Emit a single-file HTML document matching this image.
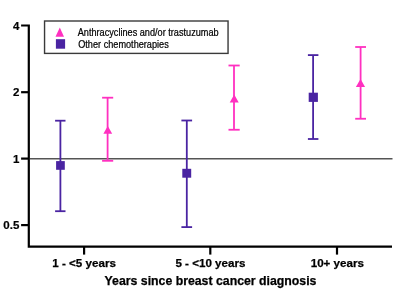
<!DOCTYPE html>
<html><head><meta charset="utf-8">
<style>
html,body{margin:0;padding:0;background:#fff;}
svg{display:block;will-change:transform;}
text{font-family:"Liberation Sans",sans-serif;}
</style></head>
<body>
<svg width="400" height="300" viewBox="0 0 400 300">
<rect width="400" height="300" fill="#fff"/>
<!-- reference line -->
<line x1="30" y1="158.7" x2="392.5" y2="158.7" stroke="#555" stroke-width="1.6"/>
<!-- axes -->
<g stroke="#000" stroke-width="2.2" fill="none">
<polyline points="21.1,25.5 28.8,25.5 28.8,246.6 392,246.6" stroke-linejoin="miter"/>
<line x1="21.1" y1="92.2" x2="28.8" y2="92.2"/>
<line x1="21.1" y1="158.6" x2="28.8" y2="158.6"/>
<line x1="21.1" y1="225.1" x2="28.8" y2="225.1"/>
<line x1="84.1" y1="246.6" x2="84.1" y2="254.6"/>
<line x1="210.3" y1="246.6" x2="210.3" y2="254.6"/>
<line x1="337" y1="246.6" x2="337" y2="254.6"/>
</g>
<!-- y labels -->
<g font-weight="bold" font-size="11.5" text-anchor="end" fill="#000" stroke="#000" stroke-width="0.2">
<text x="19.5" y="29.6">4</text>
<text x="19.5" y="96.1">2</text>
<text x="19.5" y="162.6">1</text>
<text x="19.3" y="229.2">0.5</text>
</g>
<!-- x labels -->
<g font-weight="bold" font-size="11.6" text-anchor="middle" fill="#000" stroke="#000" stroke-width="0.25">
<text x="84.1" y="267.4">1 - &lt;5 years</text>
<text x="210.4" y="267.4">5 - &lt;10 years</text>
<text x="337.3" y="267.4">10+ years</text>
</g>
<text x="210.5" y="284.7" font-weight="bold" font-size="12.3" text-anchor="middle" fill="#000" stroke="#000" stroke-width="0.25">Years since breast cancer diagnosis</text>
<!-- purple bars -->
<g stroke="#4A24A2" stroke-width="1.8" fill="none">
<line x1="60.4" y1="120.7" x2="60.4" y2="211.2"/>
<line x1="55.1" y1="120.7" x2="65.5" y2="120.7"/>
<line x1="55.1" y1="211.2" x2="65.5" y2="211.2"/>
<line x1="186.8" y1="120.5" x2="186.8" y2="227.1"/>
<line x1="181.4" y1="120.5" x2="192.1" y2="120.5"/>
<line x1="181.4" y1="227.1" x2="192.1" y2="227.1"/>
<line x1="313.1" y1="55.1" x2="313.1" y2="139"/>
<line x1="307.9" y1="55.1" x2="318.4" y2="55.1"/>
<line x1="307.9" y1="139" x2="318.4" y2="139"/>
</g>
<g fill="#4A24A2">
<rect x="56.1" y="161.1" width="8.7" height="8.7"/>
<rect x="182.3" y="168.8" width="8.9" height="8.9"/>
<rect x="308.7" y="92.7" width="9.2" height="9.2"/>
</g>
<!-- pink bars -->
<g stroke="#FF30C0" stroke-width="1.8" fill="none">
<line x1="107.6" y1="97.7" x2="107.6" y2="160.8"/>
<line x1="102.1" y1="97.7" x2="113.2" y2="97.7"/>
<line x1="102.1" y1="160.8" x2="113.2" y2="160.8"/>
<line x1="234" y1="65.5" x2="234" y2="129.75"/>
<line x1="228.5" y1="65.5" x2="239.7" y2="65.5"/>
<line x1="228.5" y1="129.75" x2="239.7" y2="129.75"/>
<line x1="360.6" y1="47" x2="360.6" y2="118.75"/>
<line x1="355.2" y1="47" x2="366" y2="47"/>
<line x1="355.2" y1="118.75" x2="366" y2="118.75"/>
</g>
<g fill="#FF30C0">
<polygon points="107.8,126.0 112.2,133.8 103.4,133.8"/>
<polygon points="234.2,94.6 238.7,102.4 229.7,102.4"/>
<polygon points="360.5,79.0 365.1,86.9 355.9,86.9"/>
</g>
<!-- legend -->
<rect x="44.55" y="21" width="183.5" height="32.4" fill="#fff" stroke="#3a3a3a" stroke-width="1.4"/>
<polygon points="59.8,27.4 64,36.7 55.5,36.7" fill="#FF30C0"/>
<rect x="55.9" y="39.2" width="9.2" height="9.5" fill="#4A24A2"/>
<text transform="translate(77.7,35.7) scale(0.89,1)" font-size="10.3" fill="#000" stroke="#000" stroke-width="0.22">Anthracyclines and/or trastuzumab</text>
<text transform="translate(78.2,48.1) scale(0.89,1)" font-size="10.3" fill="#000" stroke="#000" stroke-width="0.22">Other chemotherapies</text>
</svg>
</body></html>
